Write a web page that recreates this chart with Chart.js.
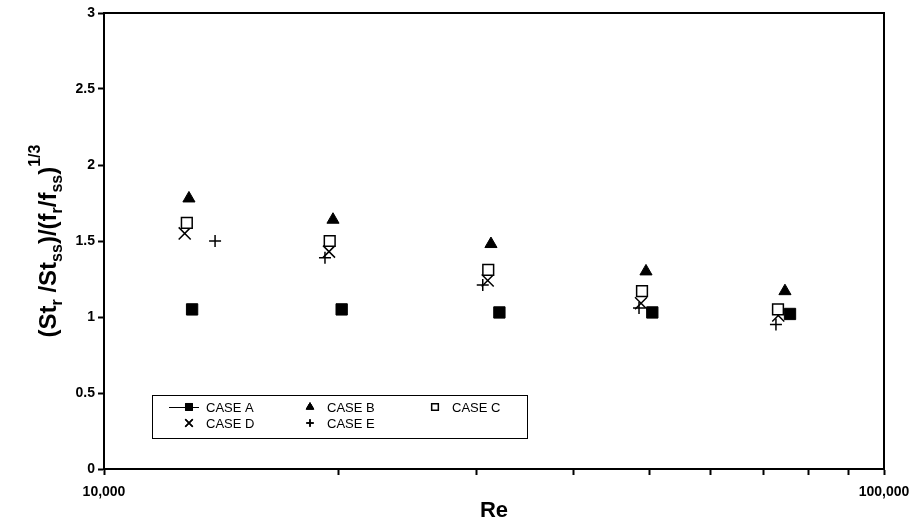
<!DOCTYPE html>
<html lang="en">
<head>
  <meta charset="UTF-8" />
  <title>Normalized Stanton ratio vs Re</title>
  <script src="https://cdn.jsdelivr.net/npm/chart.js"></script>
  <style>
    html, body { margin: 0; padding: 0; background: #fff; }
    #wrap { width: 913px; height: 528px; position: relative; }
  </style>
</head>
<body>
  <div id="wrap"><canvas id="chart"></canvas></div>

  <script>
    // data
    const caseLabels = ['CASE A', 'CASE B', 'CASE C', 'CASE D', 'CASE E'];

    const reA = [12970, 20170, 32130, 50460, 75770];
    const valA = [1.05, 1.05, 1.03, 1.03, 1.02];

    const reB = [12850, 19660, 31340, 49530, 74650];
    const valB = [1.78, 1.64, 1.48, 1.30, 1.17];

    const reC = [12770, 19470, 31090, 48950, 73130];
    const valC = [1.62, 1.50, 1.31, 1.17, 1.05];

    const reD = [12690, 19430, 31040, 48810, 73190];
    const valD = [1.55, 1.43, 1.24, 1.09, 1.01];

    const reE = [13880, 19200, 30590, 48520, 72690];
    const valE = [1.50, 1.39, 1.21, 1.06, 0.95];

    const xTickValues = [10000, 20000, 30000, 40000, 50000, 60000, 70000, 80000, 90000, 100000];
    const xTickLabels = ['10,000', '', '', '', '', '', '', '', '', '100,000'];
    const yTickValues = [0, 0.5, 1, 1.5, 2, 2.5, 3];
    const yTickLabels = ['0', '0.5', '1', '1.5', '2', '2.5', '3'];

    const FONT = "'Liberation Sans', Arial, Helvetica, sans-serif";
    const NARROW = "'Liberation Sans Narrow', 'Liberation Sans', Arial, sans-serif";

    function pts(xs, ys) {
      return xs.map((x, i) => ({ x: x, y: ys[i] }));
    }

    // y title with sub/superscripts, drawn rotated
    const yTitleParts = [
      ['(St', 'n'], ['r', 'sub'], [' /St', 'n'], ['ss', 'sub'], [')/(f', 'n'],
      ['r', 'sub'], ['/f', 'n'], ['ss', 'sub'], [')', 'n'], ['1/3', 'sup']
    ];

    const yTitlePlugin = {
      id: 'yTitle',
      afterDraw(chart) {
        const ctx = chart.ctx;
        const area = chart.chartArea;
        const fonts = { n: 'bold 24px ' + FONT, sub: 'bold 16px ' + FONT, sup: 'bold 16px ' + FONT };
        const shift = { n: 0, sub: 6, sup: -16 };
        ctx.save();
        let total = 0;
        yTitleParts.forEach(p => { ctx.font = fonts[p[1]]; total += ctx.measureText(p[0]).width; });
        ctx.translate(56, (area.top + area.bottom) / 2);
        ctx.rotate(-Math.PI / 2);
        ctx.fillStyle = '#000';
        ctx.textBaseline = 'alphabetic';
        ctx.textAlign = 'left';
        let x = -total / 2;
        yTitleParts.forEach(p => {
          ctx.font = fonts[p[1]];
          ctx.fillText(p[0], x, shift[p[1]]);
          x += ctx.measureText(p[0]).width;
        });
        ctx.restore();
      }
    };

    // top + right frame lines
    const framePlugin = {
      id: 'frame',
      afterDatasetsDraw(chart) {
        const { ctx, chartArea: a } = chart;
        ctx.save();
        ctx.strokeStyle = '#000';
        ctx.lineWidth = 2;
        ctx.beginPath();
        ctx.moveTo(a.left, a.top);
        ctx.lineTo(a.right, a.top);
        ctx.lineTo(a.right, a.bottom);
        ctx.stroke();
        ctx.restore();
      }
    };

    // boxed legend inside the plot, three columns like the original
    const boxLegendPlugin = {
      id: 'boxLegend',
      afterDraw(chart) {
        const { ctx, chartArea: a } = chart;
        const left = a.left + 48, top = a.top + 382, w = 375, h = 43;
        const colX = [left + 37, left + 158, left + 283];
        const rowY = [top + 12, top + 28];
        ctx.save();
        ctx.fillStyle = '#fff';
        ctx.fillRect(left, top, w, h);
        ctx.strokeStyle = '#000';
        ctx.lineWidth = 1;
        ctx.strokeRect(left + 0.5, top + 0.5, w, h);
        chart.data.datasets.forEach((ds, i) => {
          const cx = colX[i % 3], cy = rowY[Math.floor(i / 3)];
          if (i === 0) {
            ctx.beginPath();
            ctx.strokeStyle = '#000';
            ctx.lineWidth = 1;
            ctx.moveTo(cx - 20, cy + 0.5);
            ctx.lineTo(cx + 10, cy + 0.5);
            ctx.stroke();
          }
          Chart.helpers.drawPoint(ctx, {
            pointStyle: ds.pointStyle,
            radius: ds.pointRadius * 0.62,
            borderWidth: ds.borderWidth,
            rotation: 0
          }, cx, cy);
          ctx.fillStyle = ds.backgroundColor;
          ctx.strokeStyle = ds.borderColor;
          ctx.lineWidth = ds.borderWidth;
          ctx.fill();
          ctx.stroke();
          ctx.fillStyle = '#000';
          ctx.font = '13px ' + NARROW;
          ctx.textBaseline = 'middle';
          ctx.textAlign = 'left';
          ctx.fillText(ds.label, cx + 17, cy + 1);
        });
        ctx.restore();
      }
    };

    const ctx = document.getElementById('chart').getContext('2d');
    new Chart(ctx, {
      type: 'scatter',
      data: {
        datasets: [
          { label: caseLabels[0], data: pts(reA, valA), pointStyle: 'rect', pointRadius: 8,
            backgroundColor: '#000', borderColor: '#000', borderWidth: 1 },
          { label: caseLabels[1], data: pts(reB, valB), pointStyle: 'triangle', pointRadius: 7,
            backgroundColor: '#000', borderColor: '#000', borderWidth: 1 },
          { label: caseLabels[2], data: pts(reC, valC), pointStyle: 'rect', pointRadius: 7.6,
            backgroundColor: '#fff', borderColor: '#000', borderWidth: 1.5 },
          { label: caseLabels[3], data: pts(reD, valD), pointStyle: 'crossRot', pointRadius: 8.5,
            backgroundColor: '#000', borderColor: '#000', borderWidth: 1.5 },
          { label: caseLabels[4], data: pts(reE, valE), pointStyle: 'cross', pointRadius: 6,
            backgroundColor: '#000', borderColor: '#000', borderWidth: 1.5 }
        ]
      },
      options: {
        responsive: true,
        maintainAspectRatio: false,
        animation: false,
        layout: { padding: { left: 0, right: 29, top: 13, bottom: 0 } },
        plugins: {
          legend: { display: false },
          tooltip: { enabled: false }
        },
        elements: { point: { hoverRadius: 8 } },
        scales: {
          x: {
            type: 'logarithmic',
            min: 10000,
            max: 100000,
            afterBuildTicks: s => { s.ticks = xTickValues.map(v => ({ value: v })); },
            afterFit: s => { s.height = 528 - 469; s.paddingLeft = 0; s.paddingRight = 0; },
            ticks: {
              autoSkip: false,
              maxRotation: 0,
              padding: 9,
              color: '#000',
              font: { family: FONT, size: 14, weight: 'bold' },
              callback: (v, i) => xTickLabels[i]
            },
            grid: { drawOnChartArea: false, drawTicks: true, tickLength: 6, tickWidth: 2, color: '#000' },
            border: { display: true, color: '#000', width: 2 },
            title: {
              display: true,
              text: 'Re',
              color: '#000',
              font: { family: FONT, size: 22, weight: 'bold' },
              padding: { top: 0, bottom: 4 }
            }
          },
          y: {
            min: 0,
            max: 3,
            afterBuildTicks: s => { s.ticks = yTickValues.map(v => ({ value: v })); },
            afterFit: s => { s.width = 104; s.paddingTop = 0; s.paddingBottom = 0; },
            ticks: {
              padding: 3,
              color: '#000',
              font: { family: FONT, size: 14, weight: 'bold' },
              callback: (v, i) => yTickLabels[i]
            },
            grid: { drawOnChartArea: false, drawTicks: true, tickLength: 6, tickWidth: 2, color: '#000' },
            border: { display: true, color: '#000', width: 2 }
          }
        }
      },
      plugins: [framePlugin, boxLegendPlugin, yTitlePlugin]
    });
  </script>
</body>
</html>
